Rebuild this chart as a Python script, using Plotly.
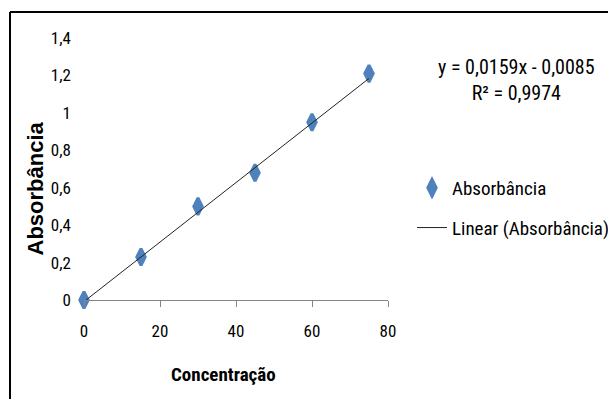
import numpy as np
import plotly.graph_objects as go

# Data
concentracao = [0, 15, 30, 45, 60, 75]
absorbancia = [0.0, 0.23, 0.50, 0.68, 0.95, 1.21]
slope = 0.0159
intercept = -0.0085
r2 = 0.9974
x_ticks = [0, 20, 40, 60, 80]
y_ticks = [0, 0.2, 0.4, 0.6, 0.8, 1.0, 1.2, 1.4]

W, H = 608, 399
L, R, T, B = 84, 220, 38, 99
PW, PH = W - L - R, H - T - B


def px(x):
    return (x - L) / PW


def py(y):
    return (H - B - y) / PH


NARROW = "Liberation Sans Narrow, Arial Narrow, Roboto Condensed, Roboto, sans-serif"
ARIAL = "Liberation Sans, Arial, sans-serif"

trend_x = np.array([min(concentracao), max(concentracao)], dtype=float)
trend_y = slope * trend_x + intercept

fig = go.Figure()
fig.add_trace(go.Scatter(
    x=concentracao, y=absorbancia, mode="markers", name="Absorbância",
    marker=dict(symbol="diamond-tall", size=12, color="#4F81BD",
                line=dict(color="#4F81BD", width=3)),
    cliponaxis=False, legendgroup="a",
))
fig.add_trace(go.Scatter(
    x=trend_x, y=trend_y, mode="lines", name="Linear (Absorbância)",
    line=dict(color="#222222", width=1),
    cliponaxis=False, legendgroup="b",
))

fig.update_layout(
    width=W, height=H,
    margin=dict(l=L, r=R, t=T, b=B, autoexpand=False),
    paper_bgcolor="white", plot_bgcolor="white",
    separators=",.",
    showlegend=True,
    legend=dict(x=px(412), xanchor="left", y=py(169), yanchor="top",
                font=dict(family=NARROW, size=19, color="#000000"),
                tracegroupgap=12, bgcolor="rgba(0,0,0,0)"),
    xaxis=dict(range=[0, 80], tickvals=x_ticks, showgrid=False, zeroline=False,
               showline=True, linecolor="#868686", linewidth=1,
               ticks="outside", ticklen=6, tickcolor="#868686",
               ticklabelstandoff=10,
               tickfont=dict(family=NARROW, size=17, color="#000000")),
    yaxis=dict(range=[0, 1.4], tickvals=y_ticks, showgrid=False, zeroline=False,
               showline=False, ticks="", ticklabelstandoff=12,
               tickfont=dict(family=NARROW, size=17, color="#000000")),
    annotations=[
        dict(text="Absorbância", x=px(34.5), y=py(189), xref="paper", yref="paper",
             xanchor="center", yanchor="middle",
             textangle=-90, showarrow=False,
             font=dict(family=ARIAL, size=22, color="#000000", weight="bold")),
        dict(text="Concentração", x=px(223), y=py(374), xref="paper", yref="paper",
             xanchor="center", yanchor="middle", showarrow=False,
             font=dict(family=NARROW, size=19, color="#000000", weight="bold")),
        dict(text=f"y = {slope:.4f}x - {abs(intercept):.4f}".replace(".", ",")
             + "<br>" + f"R² = {r2:.4f}".replace(".", ","),
             x=px(516), y=py(80), xref="paper", yref="paper", showarrow=False,
             xanchor="center", yanchor="middle", align="center",
             font=dict(family=NARROW, size=20, color="#000000")),
    ],
    shapes=[
        dict(type="line", xref="paper", yref="paper", x0=px(10), x1=px(608),
             y0=py(12), y1=py(12), line=dict(color="black", width=2)),
        dict(type="line", xref="paper", yref="paper", x0=px(10), x1=px(10),
             y0=py(12), y1=py(399), line=dict(color="black", width=2)),
    ],
)

fig.write_html(
    "out.html",
    config={"displayModeBar": False},
    post_script="document.body.style.margin='0px';document.documentElement.style.overflow='hidden';",
)
